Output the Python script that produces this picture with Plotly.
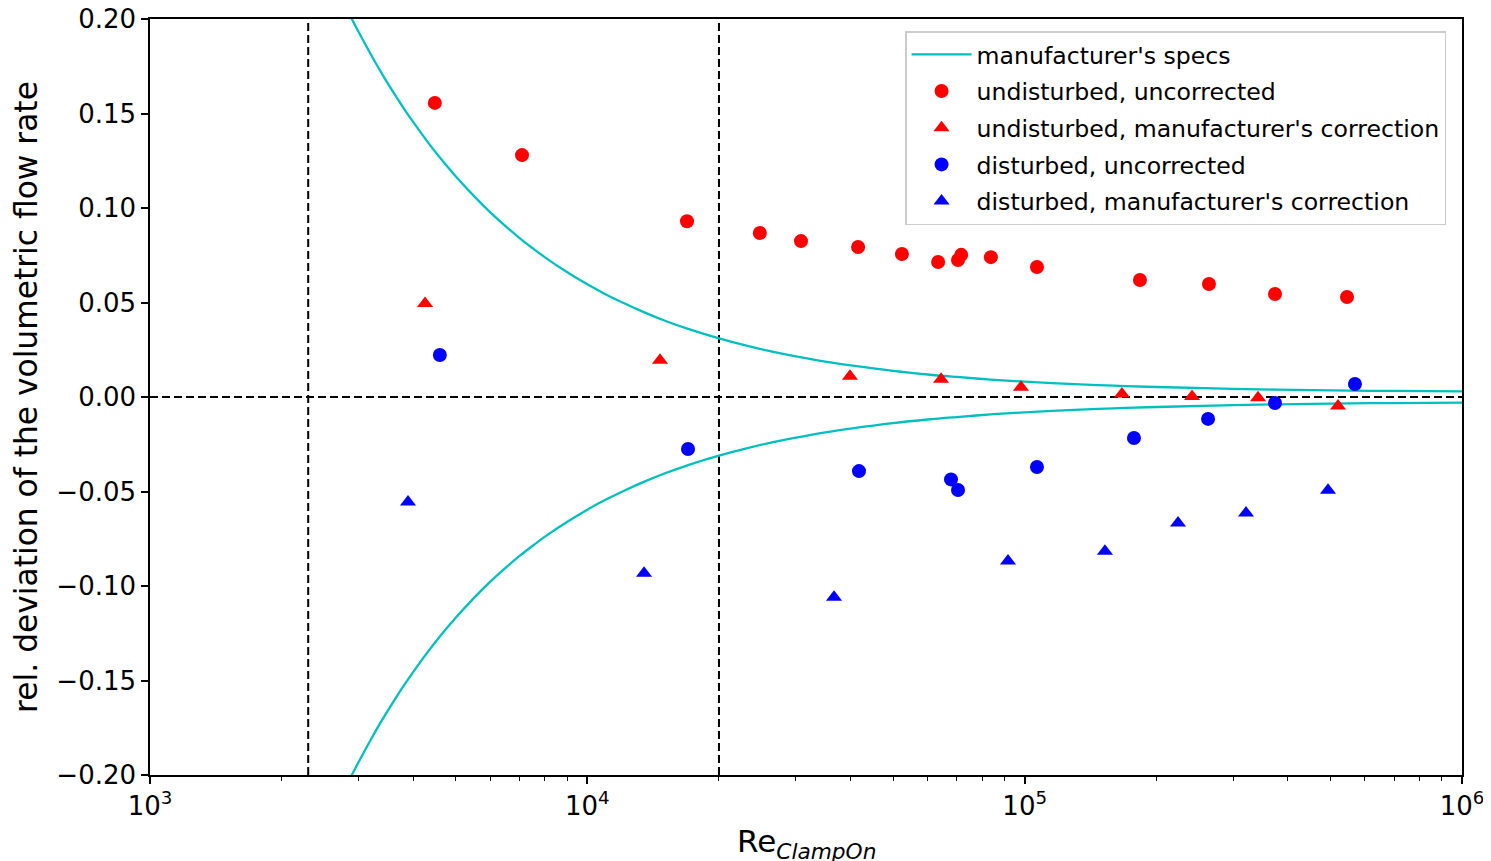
import plotly.graph_objects as go

# ---- data ----
# manufacturer's spec envelope
spec_re = [2700, 2800, 2900, 3000, 3200, 3400, 3600, 3800, 4000, 4300, 4600, 5000, 5500,
           6000, 6500, 7000, 7500, 8000, 9000, 10000, 11000, 12000, 13500, 15000, 17000,
           20000, 23000, 26000, 30000, 35000, 40000, 50000, 60000, 70000, 85000, 100000,
           130000, 160000, 200000, 300000, 500000, 700000, 1000000]
spec_upper = [0.2143, 0.2067, 0.1996, 0.1931, 0.1812, 0.1706, 0.1613, 0.1529, 0.1454, 0.1354,
              0.1267, 0.1168, 0.1064, 0.0977, 0.0904, 0.0841, 0.0787, 0.0739, 0.0660, 0.0596,
              0.0544, 0.0501, 0.0448, 0.0405, 0.0360, 0.0310, 0.0273, 0.0244, 0.0215, 0.0187,
              0.0167, 0.0138, 0.0119, 0.0106, 0.0091, 0.0081, 0.0068, 0.0060, 0.0053, 0.0043,
              0.0035, 0.0032, 0.0030]
spec_lower = [-v for v in spec_upper]

# undisturbed, uncorrected
und_unc_re = [4480, 7090, 16900, 24800, 30800, 41600, 52400, 63400, 70400, 71600,
              83700, 106700, 183500, 263900, 373600, 545800]
und_unc_dev = [0.1556, 0.128, 0.093, 0.0868, 0.0825, 0.0794, 0.0757, 0.0714, 0.0725, 0.0752,
               0.0740, 0.0688, 0.0619, 0.0598, 0.0545, 0.0529]

# undisturbed, manufacturer's correction
und_cor_re = [4255, 14660, 39860, 64400, 98100, 166900, 241400, 341700, 520600]
und_cor_dev = [0.0495, 0.0195, 0.0110, 0.0094, 0.0052, 0.0016, 0.0002, -0.0004, -0.0048]

# disturbed, uncorrected
dis_unc_re = [4600, 16990, 41800, 67850, 70400, 106700, 177800, 262600, 373600, 569200]
dis_unc_dev = [0.0222, -0.0275, -0.0392, -0.0436, -0.0492, -0.0370, -0.0217, -0.0116, -0.0032, 0.0069]

# disturbed, manufacturer's correction
dis_cor_re = [3890, 13480, 36650, 91600, 152600, 224200, 320700, 493900]
dis_cor_dev = [-0.0556, -0.0932, -0.1059, -0.0868, -0.0816, -0.0667, -0.0614, -0.0493]

# reference lines
re_limit_low = 2300
re_limit_high = 20000
x_range = [1e3, 1e6]
y_range = [-0.20, 0.20]

y_ticks = [-0.20, -0.15, -0.10, -0.05, 0.00, 0.05, 0.10, 0.15, 0.20]
y_ticktext = ["\u22120.20", "\u22120.15", "\u22120.10", "\u22120.05", "0.00", "0.05", "0.10", "0.15", "0.20"]
x_ticks = [1e3, 1e4, 1e5, 1e6]
x_ticktext = ["10<sup>3</sup>", "10<sup>4</sup>", "10<sup>5</sup>", "10<sup>6</sup>"]

x_title = "Re<sub><i>ClampOn</i></sub>"
y_title = "rel. deviation of the volumetric flow rate"

CYAN = "#00BFBF"
FONT = "DejaVu Sans"

fig = go.Figure()

dash_line = dict(color="black", width=2, dash="8px,4px")
fig.add_trace(go.Scatter(x=[re_limit_low, re_limit_low], y=y_range, mode="lines",
                         line=dash_line, showlegend=False, hoverinfo="skip"))
fig.add_trace(go.Scatter(x=[re_limit_high, re_limit_high], y=y_range, mode="lines",
                         line=dash_line, showlegend=False, hoverinfo="skip"))
fig.add_trace(go.Scatter(x=x_range, y=[0, 0], mode="lines",
                         line=dash_line, showlegend=False, hoverinfo="skip"))

fig.add_trace(go.Scatter(x=spec_re, y=spec_upper, mode="lines", line_shape="spline",
                         line=dict(color=CYAN, width=2.3), name="manufacturer's specs",
                         legendgroup="g1"))
fig.add_trace(go.Scatter(x=spec_re, y=spec_lower, mode="lines", line_shape="spline",
                         line=dict(color=CYAN, width=2.3), showlegend=False, legendgroup="g1"))

fig.add_trace(go.Scatter(x=und_unc_re, y=und_unc_dev, mode="markers",
                         marker=dict(symbol="circle", size=14, color="#FF0000"),
                         name="undisturbed, uncorrected", legendgroup="g2"))
fig.add_trace(go.Scatter(x=und_cor_re, y=und_cor_dev, mode="markers",
                         marker=dict(symbol="triangle-up", size=14, color="#FF0000"),
                         name="undisturbed, manufacturer's correction", legendgroup="g3"))
fig.add_trace(go.Scatter(x=dis_unc_re, y=dis_unc_dev, mode="markers",
                         marker=dict(symbol="circle", size=14, color="#0000FF"),
                         name="disturbed, uncorrected", legendgroup="g4"))
fig.add_trace(go.Scatter(x=dis_cor_re, y=dis_cor_dev, mode="markers",
                         marker=dict(symbol="triangle-up", size=14, color="#0000FF"),
                         name="disturbed, manufacturer's correction", legendgroup="g5"))

axis_common = dict(showline=True, linecolor="black", linewidth=1.5, mirror=True,
                   ticks="outside", tickcolor="black", tickwidth=1.5, ticklen=7,
                   showgrid=False, zeroline=False, automargin=False,
                   ticklabeloverflow="allow",
                   tickfont=dict(family=FONT, size=26, color="black"))

fig.update_xaxes(type="log", range=[3, 6], tickvals=x_ticks, ticktext=x_ticktext,
                 minor=dict(ticks="outside", ticklen=4, tickwidth=1, tickcolor="black",
                            dtick="D1", showgrid=False),
                 **axis_common)
fig.update_yaxes(range=y_range, tickvals=y_ticks, ticktext=y_ticktext,
                 title=dict(text=y_title,
                            font=dict(family=FONT, size=31.3, color="black"), standoff=14),
                 **axis_common)

fig.add_annotation(text=x_title, xref="paper", yref="paper", x=0.5, y=-0.09,
                   xanchor="center", yanchor="middle", showarrow=False,
                   font=dict(family=FONT, size=31, color="black"))

# the page body has an 8px margin: offset the figure so the plot area lands
# where the reference has it (figure extends to the window edges)
fig.update_layout(
    width=1483, height=861,
    margin=dict(l=142, r=29, t=11, b=94),
    plot_bgcolor="white", paper_bgcolor="white",
    font=dict(family=FONT, color="black"),
    legend=dict(x=0.5755, y=0.9841, xanchor="left", yanchor="top",
                bgcolor="white", bordercolor="#cccccc", borderwidth=1.5,
                font=dict(family=FONT, size=23.6, color="black"),
                itemwidth=60, tracegroupgap=3),
    showlegend=True,
)

fig.write_html("out.html")
